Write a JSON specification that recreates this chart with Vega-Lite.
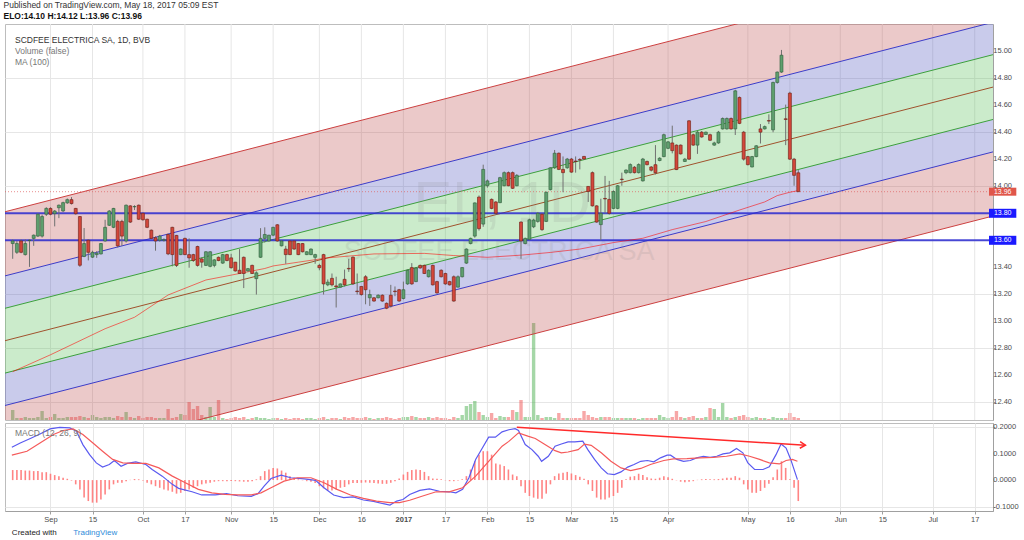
{
"$schema": "https://vega.github.io/schema/vega-lite/v6.json",
"background": "white",
"padding": {"left": 3, "top": 1, "right": 0, "bottom": 0},
"title": {"text": "Published on TradingView.com, May 18, 2017 05:09 EST", "subtitle": "ELO:14.10 H:14.12 L:13.96 C:13.96", "anchor": "start", "frame": "bounds", "fontSize": 8.5, "fontWeight": "normal", "color": "#333333", "subtitleFontSize": 8.5, "subtitleFontWeight": "bold", "subtitleColor": "#111111", "offset": 3, "subtitlePadding": 2},
"datasets": {
"xt": [{"i":0},{"i":10},{"i":22},{"i":32},{"i":43},{"i":53},{"i":64},{"i":74},{"i":84},{"i":94},{"i":104},{"i":114},{"i":124},{"i":134},{"i":147},{"i":166},{"i":176},{"i":188},{"i":198},{"i":210},{"i":220}],
"yt": [{"p":12.4},{"p":12.6},{"p":12.8},{"p":13.0},{"p":13.2},{"p":13.4},{"p":14.0},{"p":14.2},{"p":14.4},{"p":14.6},{"p":14.8},{"p":15.0}],
"mt": [{"m":-0.1,"t":"-0.1000"},{"m":0,"t":"0.0000"},{"m":0.1,"t":"0.1000"},{"m":0.2,"t":"0.2000"}],
"chan": [{"i":-12,"ru":13.802,"pu":13.327,"gu":13.087,"c":12.847,"gl":12.607,"pl":12.367,"rl":11.892},{"i":226,"ru":15.703,"pu":15.228,"gu":14.988,"c":14.748,"gl":14.508,"pl":14.268,"rl":13.793}],
"levels": [{"p":13.8},{"p":13.6}],
"last": [{"p":13.96}],
"ma": [{"i":-9,"ma":12.627},{"i":0,"ma":12.752},{"i":13,"ma":12.945},{"i":20,"ma":13.03},{"i":28,"ma":13.195},{"i":37,"ma":13.306},{"i":43,"ma":13.342},{"i":51,"ma":13.391},{"i":53,"ma":13.41},{"i":59,"ma":13.438},{"i":66,"ma":13.47},{"i":77,"ma":13.499},{"i":89,"ma":13.503},{"i":96,"ma":13.487},{"i":104,"ma":13.474},{"i":112,"ma":13.49},{"i":119,"ma":13.51},{"i":126,"ma":13.535},{"i":134,"ma":13.583},{"i":141,"ma":13.615},{"i":148,"ma":13.679},{"i":156,"ma":13.739},{"i":164,"ma":13.824},{"i":170,"ma":13.884},{"i":173,"ma":13.931},{"i":176,"ma":13.956},{"i":178,"ma":13.968}],
"candles": [
{"i":-9,"o":13.576,"h":13.607,"l":13.463,"c":13.595,"v":10},
{"i":-8,"o":13.511,"h":13.595,"l":13.499,"c":13.576,"v":2},
{"i":-7,"o":13.595,"h":13.607,"l":13.504,"c":13.511,"v":2},
{"i":-6,"o":13.494,"h":13.607,"l":13.487,"c":13.576,"v":3},
{"i":-5,"o":13.598,"h":13.607,"l":13.403,"c":13.6,"v":2},
{"i":-4,"o":13.614,"h":13.643,"l":13.559,"c":13.638,"v":2},
{"i":-3,"o":13.631,"h":13.8,"l":13.624,"c":13.793,"v":3},
{"i":-2,"o":13.631,"h":13.79,"l":13.62,"c":13.776,"v":9},
{"i":-1,"o":13.793,"h":13.845,"l":13.78,"c":13.836,"v":2},
{"i":0,"o":13.836,"h":13.845,"l":13.785,"c":13.793,"v":3},
{"i":1,"o":13.797,"h":13.824,"l":13.703,"c":13.817,"v":6},
{"i":2,"o":13.841,"h":13.865,"l":13.764,"c":13.86,"v":2},
{"i":3,"o":13.817,"h":13.886,"l":13.81,"c":13.879,"v":2},
{"i":4,"o":13.877,"h":13.91,"l":13.87,"c":13.901,"v":3},
{"i":5,"o":13.901,"h":13.92,"l":13.865,"c":13.872,"v":3},
{"i":6,"o":13.836,"h":13.84,"l":13.79,"c":13.797,"v":3},
{"i":7,"o":13.776,"h":13.78,"l":13.403,"c":13.415,"v":4},
{"i":8,"o":13.48,"h":13.691,"l":13.475,"c":13.576,"v":3},
{"i":9,"o":13.6,"h":13.607,"l":13.451,"c":13.511,"v":2},
{"i":10,"o":13.475,"h":13.523,"l":13.47,"c":13.511,"v":5},
{"i":11,"o":13.494,"h":13.52,"l":13.47,"c":13.504,"v":3},
{"i":12,"o":13.499,"h":13.58,"l":13.495,"c":13.576,"v":2},
{"i":13,"o":13.595,"h":13.752,"l":13.59,"c":13.696,"v":3},
{"i":14,"o":13.711,"h":13.824,"l":13.706,"c":13.817,"v":3},
{"i":15,"o":13.696,"h":13.84,"l":13.69,"c":13.836,"v":2},
{"i":16,"o":13.74,"h":13.752,"l":13.547,"c":13.559,"v":4},
{"i":17,"o":13.74,"h":13.752,"l":13.559,"c":13.631,"v":3},
{"i":18,"o":13.595,"h":13.865,"l":13.583,"c":13.86,"v":8},
{"i":19,"o":13.855,"h":13.86,"l":13.728,"c":13.735,"v":3},
{"i":20,"o":13.848,"h":13.86,"l":13.824,"c":13.85,"v":2},
{"i":21,"o":13.86,"h":13.865,"l":13.75,"c":13.756,"v":4},
{"i":22,"o":13.8,"h":13.805,"l":13.745,"c":13.752,"v":2},
{"i":23,"o":13.756,"h":13.76,"l":13.69,"c":13.696,"v":3},
{"i":24,"o":13.675,"h":13.68,"l":13.607,"c":13.614,"v":3},
{"i":25,"o":13.619,"h":13.63,"l":13.523,"c":13.595,"v":2},
{"i":26,"o":13.6,"h":13.64,"l":13.59,"c":13.631,"v":2},
{"i":27,"o":13.6,"h":13.615,"l":13.59,"c":13.605,"v":2},
{"i":28,"o":13.643,"h":13.65,"l":13.49,"c":13.499,"v":11},
{"i":29,"o":13.696,"h":13.7,"l":13.407,"c":13.494,"v":2},
{"i":30,"o":13.636,"h":13.64,"l":13.402,"c":13.414,"v":3},
{"i":31,"o":13.494,"h":13.54,"l":13.49,"c":13.535,"v":6},
{"i":32,"o":13.614,"h":13.62,"l":13.49,"c":13.494,"v":5},
{"i":33,"o":13.494,"h":13.614,"l":13.397,"c":13.47,"v":18},
{"i":34,"o":13.494,"h":13.5,"l":13.44,"c":13.45,"v":11},
{"i":35,"o":13.554,"h":13.56,"l":13.405,"c":13.414,"v":14},
{"i":36,"o":13.462,"h":13.474,"l":13.397,"c":13.438,"v":5},
{"i":37,"o":13.414,"h":13.52,"l":13.41,"c":13.515,"v":3},
{"i":38,"o":13.407,"h":13.52,"l":13.4,"c":13.515,"v":13},
{"i":39,"o":13.414,"h":13.46,"l":13.4,"c":13.455,"v":3},
{"i":40,"o":13.474,"h":13.48,"l":13.445,"c":13.45,"v":20},
{"i":41,"o":13.431,"h":13.5,"l":13.425,"c":13.494,"v":2},
{"i":42,"o":13.494,"h":13.5,"l":13.445,"c":13.45,"v":1},
{"i":43,"o":13.47,"h":13.5,"l":13.39,"c":13.397,"v":2},
{"i":44,"o":13.438,"h":13.44,"l":13.368,"c":13.373,"v":3},
{"i":45,"o":13.378,"h":13.535,"l":13.35,"c":13.354,"v":2},
{"i":46,"o":13.474,"h":13.48,"l":13.246,"c":13.354,"v":3},
{"i":47,"o":13.373,"h":13.395,"l":13.368,"c":13.39,"v":1},
{"i":48,"o":13.414,"h":13.42,"l":13.35,"c":13.354,"v":2},
{"i":49,"o":13.316,"h":13.37,"l":13.198,"c":13.359,"v":3},
{"i":50,"o":13.474,"h":13.69,"l":13.47,"c":13.614,"v":2},
{"i":51,"o":13.614,"h":13.696,"l":13.583,"c":13.643,"v":2},
{"i":52,"o":13.595,"h":13.64,"l":13.59,"c":13.638,"v":1},
{"i":53,"o":13.638,"h":13.7,"l":13.63,"c":13.696,"v":2},
{"i":54,"o":13.715,"h":13.72,"l":13.59,"c":13.595,"v":2},
{"i":55,"o":13.559,"h":13.6,"l":13.555,"c":13.595,"v":1},
{"i":56,"o":13.535,"h":13.559,"l":13.426,"c":13.494,"v":2},
{"i":57,"o":13.595,"h":13.6,"l":13.49,"c":13.494,"v":1},
{"i":58,"o":13.595,"h":13.6,"l":13.53,"c":13.535,"v":2},
{"i":59,"o":13.576,"h":13.58,"l":13.49,"c":13.494,"v":2},
{"i":60,"o":13.576,"h":13.58,"l":13.51,"c":13.515,"v":1},
{"i":61,"o":13.494,"h":13.52,"l":13.49,"c":13.515,"v":2},
{"i":62,"o":13.494,"h":13.54,"l":13.49,"c":13.535,"v":2},
{"i":63,"o":13.474,"h":13.5,"l":13.426,"c":13.494,"v":1},
{"i":64,"o":13.414,"h":13.426,"l":13.378,"c":13.397,"v":2},
{"i":65,"o":13.494,"h":13.5,"l":13.198,"c":13.277,"v":3},
{"i":66,"o":13.27,"h":13.31,"l":13.26,"c":13.29,"v":1},
{"i":67,"o":13.318,"h":13.354,"l":13.258,"c":13.27,"v":2},
{"i":68,"o":13.262,"h":13.33,"l":13.102,"c":13.255,"v":2},
{"i":69,"o":13.253,"h":13.28,"l":13.25,"c":13.277,"v":1},
{"i":70,"o":13.311,"h":13.383,"l":13.258,"c":13.27,"v":3},
{"i":71,"o":13.392,"h":13.463,"l":13.366,"c":13.388,"v":2},
{"i":72,"o":13.475,"h":13.48,"l":13.27,"c":13.277,"v":3},
{"i":73,"o":13.224,"h":13.354,"l":13.198,"c":13.22,"v":2},
{"i":74,"o":13.258,"h":13.26,"l":13.19,"c":13.198,"v":2},
{"i":75,"o":13.33,"h":13.342,"l":13.126,"c":13.234,"v":3},
{"i":76,"o":13.174,"h":13.234,"l":13.114,"c":13.198,"v":2},
{"i":77,"o":13.174,"h":13.18,"l":13.145,"c":13.15,"v":1},
{"i":78,"o":13.174,"h":13.2,"l":13.17,"c":13.193,"v":2},
{"i":79,"o":13.193,"h":13.2,"l":13.145,"c":13.15,"v":2},
{"i":80,"o":13.133,"h":13.14,"l":13.09,"c":13.097,"v":3},
{"i":81,"o":13.193,"h":13.27,"l":13.102,"c":13.114,"v":2},
{"i":82,"o":13.224,"h":13.258,"l":13.186,"c":13.22,"v":1},
{"i":83,"o":13.234,"h":13.24,"l":13.145,"c":13.15,"v":2},
{"i":84,"o":13.169,"h":13.294,"l":13.162,"c":13.234,"v":3},
{"i":85,"o":13.277,"h":13.385,"l":13.27,"c":13.378,"v":3},
{"i":86,"o":13.398,"h":13.431,"l":13.27,"c":13.277,"v":4},
{"i":87,"o":13.294,"h":13.4,"l":13.29,"c":13.395,"v":3},
{"i":88,"o":13.414,"h":13.42,"l":13.39,"c":13.395,"v":2},
{"i":89,"o":13.414,"h":13.42,"l":13.35,"c":13.354,"v":2},
{"i":90,"o":13.33,"h":13.385,"l":13.325,"c":13.378,"v":3},
{"i":91,"o":13.414,"h":13.42,"l":13.265,"c":13.27,"v":2},
{"i":92,"o":13.294,"h":13.3,"l":13.205,"c":13.21,"v":3},
{"i":93,"o":13.378,"h":13.385,"l":13.325,"c":13.33,"v":2},
{"i":94,"o":13.354,"h":13.36,"l":13.27,"c":13.277,"v":2},
{"i":95,"o":13.294,"h":13.3,"l":13.265,"c":13.27,"v":1},
{"i":96,"o":13.33,"h":13.34,"l":13.145,"c":13.15,"v":3},
{"i":97,"o":13.253,"h":13.34,"l":13.25,"c":13.33,"v":2},
{"i":98,"o":13.33,"h":13.4,"l":13.325,"c":13.398,"v":5},
{"i":99,"o":13.431,"h":13.54,"l":13.425,"c":13.535,"v":14},
{"i":100,"o":13.576,"h":13.62,"l":13.57,"c":13.614,"v":16},
{"i":101,"o":13.631,"h":13.88,"l":13.619,"c":13.877,"v":19},
{"i":102,"o":13.92,"h":13.932,"l":13.672,"c":13.686,"v":8},
{"i":103,"o":13.72,"h":14.16,"l":13.7,"c":14.125,"v":5},
{"i":104,"o":14.004,"h":14.05,"l":13.99,"c":14.04,"v":3},
{"i":105,"o":13.903,"h":13.91,"l":13.83,"c":13.836,"v":7},
{"i":106,"o":13.884,"h":13.89,"l":13.79,"c":13.8,"v":2},
{"i":107,"o":13.879,"h":14.07,"l":13.875,"c":14.064,"v":4},
{"i":108,"o":14.004,"h":14.11,"l":14.0,"c":14.101,"v":3},
{"i":109,"o":14.101,"h":14.11,"l":14.0,"c":14.004,"v":3},
{"i":110,"o":14.101,"h":14.11,"l":13.98,"c":13.985,"v":10},
{"i":111,"o":14.004,"h":14.09,"l":14.0,"c":14.081,"v":8},
{"i":112,"o":13.735,"h":13.74,"l":13.463,"c":13.595,"v":20},
{"i":113,"o":13.576,"h":13.62,"l":13.57,"c":13.614,"v":3},
{"i":114,"o":13.607,"h":13.76,"l":13.6,"c":13.752,"v":3},
{"i":115,"o":13.7,"h":13.76,"l":13.69,"c":13.75,"v":97},
{"i":116,"o":13.74,"h":13.81,"l":13.73,"c":13.8,"v":5},
{"i":117,"o":13.793,"h":13.8,"l":13.67,"c":13.679,"v":2},
{"i":118,"o":13.74,"h":13.96,"l":13.735,"c":13.956,"v":3},
{"i":119,"o":13.975,"h":14.14,"l":13.97,"c":14.137,"v":3},
{"i":120,"o":14.137,"h":14.269,"l":14.129,"c":14.245,"v":2},
{"i":121,"o":14.245,"h":14.25,"l":14.12,"c":14.125,"v":7},
{"i":122,"o":14.125,"h":14.221,"l":13.956,"c":14.101,"v":2},
{"i":123,"o":14.137,"h":14.21,"l":14.13,"c":14.202,"v":2},
{"i":124,"o":14.202,"h":14.21,"l":14.1,"c":14.105,"v":2},
{"i":125,"o":14.187,"h":14.221,"l":14.101,"c":14.183,"v":2},
{"i":126,"o":14.198,"h":14.209,"l":14.125,"c":14.195,"v":2},
{"i":127,"o":14.221,"h":14.225,"l":14.195,"c":14.202,"v":9},
{"i":128,"o":13.999,"h":14.0,"l":13.884,"c":13.961,"v":5},
{"i":129,"o":14.101,"h":14.11,"l":13.85,"c":13.855,"v":3},
{"i":130,"o":13.855,"h":13.86,"l":13.73,"c":13.735,"v":2},
{"i":131,"o":13.716,"h":13.908,"l":13.6,"c":13.8,"v":3},
{"i":132,"o":13.91,"h":14.077,"l":13.8,"c":13.906,"v":3},
{"i":133,"o":13.903,"h":14.04,"l":13.79,"c":13.8,"v":3},
{"i":134,"o":13.836,"h":13.97,"l":13.83,"c":13.961,"v":2},
{"i":135,"o":13.836,"h":14.01,"l":13.83,"c":14.004,"v":2},
{"i":136,"o":14.053,"h":14.101,"l":14.004,"c":14.05,"v":2},
{"i":137,"o":14.101,"h":14.125,"l":14.09,"c":14.12,"v":2},
{"i":138,"o":14.101,"h":14.17,"l":14.095,"c":14.161,"v":2},
{"i":139,"o":14.141,"h":14.15,"l":14.095,"c":14.101,"v":2},
{"i":140,"o":14.101,"h":14.17,"l":14.095,"c":14.161,"v":1},
{"i":141,"o":14.04,"h":14.21,"l":14.035,"c":14.202,"v":2},
{"i":142,"o":14.184,"h":14.19,"l":14.155,"c":14.16,"v":2},
{"i":143,"o":14.143,"h":14.15,"l":14.11,"c":14.119,"v":2},
{"i":144,"o":14.16,"h":14.305,"l":14.088,"c":14.1,"v":2},
{"i":145,"o":14.191,"h":14.215,"l":14.185,"c":14.208,"v":5},
{"i":146,"o":14.22,"h":14.39,"l":14.215,"c":14.382,"v":3},
{"i":147,"o":14.281,"h":14.335,"l":14.275,"c":14.329,"v":2},
{"i":148,"o":14.321,"h":14.449,"l":14.244,"c":14.264,"v":3},
{"i":149,"o":14.305,"h":14.31,"l":14.12,"c":14.124,"v":9},
{"i":150,"o":14.305,"h":14.31,"l":14.235,"c":14.24,"v":3},
{"i":151,"o":14.184,"h":14.21,"l":14.18,"c":14.201,"v":2},
{"i":152,"o":14.485,"h":14.49,"l":14.195,"c":14.201,"v":3},
{"i":153,"o":14.382,"h":14.39,"l":14.3,"c":14.305,"v":4},
{"i":154,"o":14.305,"h":14.41,"l":14.24,"c":14.401,"v":2},
{"i":155,"o":14.401,"h":14.41,"l":14.36,"c":14.365,"v":2},
{"i":156,"o":14.384,"h":14.405,"l":14.38,"c":14.401,"v":3},
{"i":157,"o":14.382,"h":14.39,"l":14.335,"c":14.341,"v":12},
{"i":158,"o":14.305,"h":14.33,"l":14.3,"c":14.321,"v":11},
{"i":159,"o":14.321,"h":14.41,"l":14.315,"c":14.401,"v":3},
{"i":160,"o":14.425,"h":14.51,"l":14.42,"c":14.502,"v":17},
{"i":161,"o":14.425,"h":14.51,"l":14.42,"c":14.502,"v":3},
{"i":162,"o":14.502,"h":14.51,"l":14.42,"c":14.425,"v":2},
{"i":163,"o":14.425,"h":14.715,"l":14.38,"c":14.707,"v":3},
{"i":164,"o":14.658,"h":14.665,"l":14.46,"c":14.466,"v":4},
{"i":165,"o":14.401,"h":14.41,"l":14.19,"c":14.201,"v":5},
{"i":166,"o":14.22,"h":14.225,"l":14.155,"c":14.16,"v":3},
{"i":167,"o":14.143,"h":14.225,"l":14.14,"c":14.22,"v":2},
{"i":168,"o":14.22,"h":14.305,"l":14.215,"c":14.3,"v":3},
{"i":169,"o":14.425,"h":14.461,"l":14.317,"c":14.401,"v":2},
{"i":170,"o":14.425,"h":14.45,"l":14.42,"c":14.442,"v":2},
{"i":171,"o":14.487,"h":14.533,"l":14.461,"c":14.483,"v":1},
{"i":172,"o":14.418,"h":14.775,"l":14.4,"c":14.769,"v":3},
{"i":173,"o":14.769,"h":14.85,"l":14.76,"c":14.846,"v":2},
{"i":174,"o":14.846,"h":15.01,"l":14.84,"c":14.971,"v":2},
{"i":175,"o":14.5,"h":14.605,"l":14.305,"c":14.495,"v":2},
{"i":176,"o":14.69,"h":14.7,"l":14.195,"c":14.201,"v":7},
{"i":177,"o":14.201,"h":14.21,"l":14.004,"c":14.081,"v":3},
{"i":178,"o":14.1,"h":14.12,"l":13.96,"c":13.96,"v":2}
],
"hist": [
{"i":-9,"h":0.038},{"i":-8,"h":0.038},{"i":-7,"h":0.038},{"i":-6,"h":0.036},{"i":-5,"h":0.036},{"i":-4,"h":0.034},{"i":-3,"h":0.034},{"i":-2,"h":0.03},{"i":-1,"h":0.03},{"i":0,"h":0.024},
{"i":1,"h":0.019},{"i":2,"h":0.015},{"i":3,"h":0.009},{"i":4,"h":0.005},{"i":5,"h":-0.002},{"i":6,"h":-0.016},{"i":7,"h":-0.035},{"i":8,"h":-0.066},{"i":9,"h":-0.079},{"i":10,"h":-0.085},
{"i":11,"h":-0.085},{"i":12,"h":-0.073},{"i":13,"h":-0.054},{"i":14,"h":-0.035},{"i":15,"h":-0.016},{"i":16,"h":-0.01},{"i":17,"h":-0.01},{"i":18,"h":-0.004},{"i":19,"h":0.001},{"i":20,"h":0.004},
{"i":21,"h":0.003},{"i":22,"h":-0.001},{"i":23,"h":-0.01},{"i":24,"h":-0.016},{"i":25,"h":-0.023},{"i":26,"h":-0.029},{"i":27,"h":-0.035},{"i":28,"h":-0.039},{"i":29,"h":-0.044},{"i":30,"h":-0.051},
{"i":31,"h":-0.048},{"i":32,"h":-0.041},{"i":33,"h":-0.035},{"i":34,"h":-0.029},{"i":35,"h":-0.023},{"i":36,"h":-0.016},{"i":37,"h":-0.013},{"i":38,"h":-0.01},{"i":39,"h":-0.006},{"i":40,"h":-0.004},
{"i":41,"h":-0.004},{"i":42,"h":-0.004},{"i":43,"h":-0.003},{"i":44,"h":-0.004},{"i":45,"h":-0.005},{"i":46,"h":-0.006},{"i":47,"h":-0.006},{"i":48,"h":-0.004},{"i":49,"h":0.003},{"i":50,"h":0.015},
{"i":51,"h":0.034},{"i":52,"h":0.04},{"i":53,"h":0.046},{"i":54,"h":0.044},{"i":55,"h":0.036},{"i":56,"h":0.028},{"i":57,"h":0.015},{"i":58,"h":0.009},{"i":59,"h":0.003},{"i":60,"h":-0.001},
{"i":61,"h":-0.004},{"i":62,"h":-0.006},{"i":63,"h":-0.011},{"i":64,"h":-0.023},{"i":65,"h":-0.031},{"i":66,"h":-0.039},{"i":67,"h":-0.039},{"i":68,"h":-0.035},{"i":69,"h":-0.029},{"i":70,"h":-0.026},
{"i":71,"h":-0.016},{"i":72,"h":-0.011},{"i":73,"h":-0.011},{"i":74,"h":-0.01},{"i":75,"h":-0.009},{"i":76,"h":-0.01},{"i":77,"h":-0.011},{"i":78,"h":-0.013},{"i":79,"h":-0.014},{"i":80,"h":-0.014},
{"i":81,"h":-0.01},{"i":82,"h":-0.004},{"i":83,"h":0.006},{"i":84,"h":0.021},{"i":85,"h":0.031},{"i":86,"h":0.038},{"i":87,"h":0.04},{"i":88,"h":0.038},{"i":89,"h":0.031},{"i":90,"h":0.015},
{"i":91,"h":0.006},{"i":92,"h":0.005},{"i":93,"h":0.003},{"i":94,"h":-0.001},{"i":95,"h":-0.004},{"i":96,"h":-0.004},{"i":97,"h":-0.001},{"i":98,"h":0.003},{"i":99,"h":0.015},{"i":100,"h":0.04},
{"i":101,"h":0.071},{"i":102,"h":0.096},{"i":103,"h":0.109},{"i":104,"h":0.109},{"i":105,"h":0.096},{"i":106,"h":0.063},{"i":107,"h":0.059},{"i":108,"h":0.053},{"i":109,"h":0.04},{"i":110,"h":0.021},
{"i":111,"h":0.015},{"i":112,"h":-0.023},{"i":113,"h":-0.048},{"i":114,"h":-0.06},{"i":115,"h":-0.066},{"i":116,"h":-0.07},{"i":117,"h":-0.07},{"i":118,"h":-0.051},{"i":119,"h":-0.016},{"i":120,"h":0.015},
{"i":121,"h":0.025},{"i":122,"h":0.028},{"i":123,"h":0.031},{"i":124,"h":0.025},{"i":125,"h":0.019},{"i":126,"h":0.013},{"i":127,"h":0.005},{"i":128,"h":-0.016},{"i":129,"h":-0.041},{"i":130,"h":-0.066},
{"i":131,"h":-0.073},{"i":132,"h":-0.073},{"i":133,"h":-0.066},{"i":134,"h":-0.06},{"i":135,"h":-0.048},{"i":136,"h":-0.029},{"i":137,"h":0.003},{"i":138,"h":0.013},{"i":139,"h":0.015},{"i":140,"h":0.024},
{"i":141,"h":0.019},{"i":142,"h":0.011},{"i":143,"h":0.006},{"i":144,"h":0.005},{"i":145,"h":0.009},{"i":146,"h":0.015},{"i":147,"h":0.011},{"i":148,"h":0.005},{"i":149,"h":-0.001},{"i":150,"h":-0.006},
{"i":151,"h":-0.008},{"i":152,"h":-0.006},{"i":153,"h":-0.004},{"i":154,"h":0.001},{"i":155,"h":0.003},{"i":156,"h":0.004},{"i":157,"h":0.003},{"i":158,"h":0.003},{"i":159,"h":0.004},{"i":160,"h":0.006},
{"i":161,"h":0.009},{"i":162,"h":0.009},{"i":163,"h":0.015},{"i":164,"h":0.009},{"i":165,"h":-0.016},{"i":166,"h":-0.035},{"i":167,"h":-0.048},{"i":168,"h":-0.048},{"i":169,"h":-0.041},{"i":170,"h":-0.029},
{"i":171,"h":-0.014},{"i":172,"h":0.011},{"i":173,"h":0.04},{"i":174,"h":0.071},{"i":175,"h":0.046},{"i":176,"h":0.003},{"i":177,"h":-0.029},{"i":178,"h":-0.079}
],
"ml": [{"i":-9.2,"m":0.124},{"i":-7.2,"m":0.14},{"i":-4.8,"m":0.157},{"i":-2.5,"m":0.174},{"i":-0.1,"m":0.193},{"i":2.2,"m":0.199},{"i":4.6,"m":0.197},{"i":6.2,"m":0.184},{"i":7.7,"m":0.134},{"i":9.3,"m":0.096},{"i":10.9,"m":0.065},{"i":12.4,"m":0.049},{"i":14.0,"m":0.059},{"i":15.2,"m":0.074},{"i":16.8,"m":0.052},{"i":18.3,"m":0.063},{"i":20.3,"m":0.069},{"i":22.7,"m":0.059},{"i":24.2,"m":0.04},{"i":26.6,"m":0.015},{"i":29.0,"m":-0.016},{"i":30.5,"m":-0.031},{"i":33.7,"m":-0.044},{"i":36.0,"m":-0.056},{"i":39.2,"m":-0.056},{"i":41.9,"m":-0.051},{"i":44.6,"m":-0.059},{"i":47.8,"m":-0.061},{"i":49.4,"m":-0.051},{"i":50.9,"m":-0.022},{"i":52.5,"m":0.006},{"i":54.9,"m":0.019},{"i":57.2,"m":0.009},{"i":60.4,"m":0.005},{"i":63.1,"m":-0.001},{"i":65.1,"m":-0.029},{"i":67.4,"m":-0.056},{"i":69.8,"m":-0.066},{"i":72.1,"m":-0.063},{"i":74.5,"m":-0.075},{"i":76.9,"m":-0.08},{"i":79.2,"m":-0.089},{"i":80.8,"m":-0.094},{"i":82.4,"m":-0.079},{"i":83.9,"m":-0.073},{"i":85.5,"m":-0.054},{"i":87.9,"m":-0.039},{"i":90.2,"m":-0.033},{"i":92.6,"m":-0.042},{"i":94.9,"m":-0.044},{"i":96.5,"m":-0.048},{"i":98.1,"m":-0.035},{"i":99.6,"m":0.009},{"i":101.2,"m":0.078},{"i":102.8,"m":0.121},{"i":104.3,"m":0.162},{"i":105.9,"m":0.162},{"i":107.5,"m":0.182},{"i":109.1,"m":0.19},{"i":110.6,"m":0.194},{"i":111.4,"m":0.187},{"i":113.0,"m":0.134},{"i":114.6,"m":0.115},{"i":116.1,"m":0.09},{"i":116.9,"m":0.071},{"i":118.5,"m":0.09},{"i":120.1,"m":0.128},{"i":121.6,"m":0.136},{"i":123.2,"m":0.144},{"i":124.8,"m":0.144},{"i":126.7,"m":0.147},{"i":127.9,"m":0.115},{"i":129.5,"m":0.078},{"i":131.1,"m":0.046},{"i":132.6,"m":0.024},{"i":134.2,"m":0.021},{"i":135.8,"m":0.031},{"i":137.4,"m":0.049},{"i":138.9,"m":0.059},{"i":140.5,"m":0.071},{"i":142.1,"m":0.074},{"i":143.6,"m":0.069},{"i":145.2,"m":0.084},{"i":146.8,"m":0.094},{"i":147.6,"m":0.094},{"i":149.1,"m":0.078},{"i":150.7,"m":0.071},{"i":152.3,"m":0.074},{"i":153.8,"m":0.084},{"i":155.4,"m":0.09},{"i":157.0,"m":0.086},{"i":158.6,"m":0.09},{"i":160.1,"m":0.099},{"i":161.7,"m":0.103},{"i":163.3,"m":0.119},{"i":164.8,"m":0.103},{"i":166.0,"m":0.065},{"i":167.6,"m":0.04},{"i":169.6,"m":0.04},{"i":171.1,"m":0.05},{"i":172.7,"m":0.096},{"i":173.9,"m":0.136},{"i":175.1,"m":0.121},{"i":176.2,"m":0.078},{"i":177.8,"m":0.002}],
"sl": [{"i":-9.2,"s":0.094},{"i":-5.6,"s":0.109},{"i":-2.5,"s":0.14},{"i":0.7,"s":0.172},{"i":3.0,"s":0.187},{"i":5.4,"s":0.193},{"i":7.7,"s":0.172},{"i":10.1,"s":0.14},{"i":12.4,"s":0.109},{"i":14.8,"s":0.078},{"i":17.2,"s":0.065},{"i":19.5,"s":0.063},{"i":22.7,"s":0.063},{"i":25.8,"s":0.046},{"i":29.0,"s":0.015},{"i":32.1,"s":-0.01},{"i":35.2,"s":-0.035},{"i":38.4,"s":-0.048},{"i":41.5,"s":-0.054},{"i":44.6,"s":-0.056},{"i":47.8,"s":-0.056},{"i":50.1,"s":-0.048},{"i":52.5,"s":-0.029},{"i":55.6,"s":-0.004},{"i":58.8,"s":0.009},{"i":62.0,"s":0.009},{"i":65.1,"s":-0.01},{"i":68.2,"s":-0.035},{"i":71.4,"s":-0.056},{"i":74.5,"s":-0.069},{"i":77.6,"s":-0.079},{"i":80.8,"s":-0.085},{"i":83.1,"s":-0.085},{"i":85.5,"s":-0.076},{"i":88.6,"s":-0.06},{"i":91.8,"s":-0.044},{"i":94.9,"s":-0.044},{"i":98.1,"s":-0.029},{"i":101.2,"s":0.015},{"i":104.3,"s":0.071},{"i":107.5,"s":0.128},{"i":109.1,"s":0.146},{"i":111.4,"s":0.178},{"i":113.8,"s":0.165},{"i":115.4,"s":0.157},{"i":117.7,"s":0.134},{"i":120.1,"s":0.111},{"i":121.6,"s":0.103},{"i":123.2,"s":0.106},{"i":125.6,"s":0.115},{"i":127.1,"s":0.136},{"i":128.7,"s":0.131},{"i":131.1,"s":0.103},{"i":133.4,"s":0.071},{"i":135.8,"s":0.046},{"i":138.1,"s":0.036},{"i":140.5,"s":0.044},{"i":142.8,"s":0.059},{"i":146.0,"s":0.074},{"i":148.3,"s":0.08},{"i":151.5,"s":0.081},{"i":154.6,"s":0.084},{"i":157.8,"s":0.086},{"i":160.9,"s":0.09},{"i":164.1,"s":0.099},{"i":166.4,"s":0.09},{"i":168.8,"s":0.078},{"i":171.1,"s":0.065},{"i":173.5,"s":0.061},{"i":175.1,"s":0.074},{"i":176.6,"s":0.078},{"i":177.8,"s":0.071}],
"arrow": [{"i":111.0,"m":0.199},{"i":179.7,"m":0.1316}]
},
"vconcat": [
{
"width": 988, "height": 396,
"layer": [
{"data": {"name": "candles"}, "mark": {"type": "bar", "width": 3.4, "opacity": 0.5},
 "encoding": {
  "x": {"field": "i", "type": "quantitative", "title": null, "scale": {"domain": [-9.64, 223.16], "nice": false, "zero": false}, "axis": null},
  "y": {"field": "v", "type": "quantitative", "title": null, "scale": {"domain": [0, 396], "nice": false}, "axis": null},
  "color": {"condition": {"test": "datum.c >= datum.o", "value": "#4caf50"}, "value": "#f05050"}}},
{"layer": [
 {"data": {"name": "xt"}, "mark": {"type": "rule", "color": "#e6e6e6", "strokeWidth": 1},
  "encoding": {"x": {"field": "i", "type": "quantitative", "title": null}}},
 {"data": {"name": "chan"}, "mark": {"type": "area", "color": "#bc4b4b", "opacity": 0.3, "clip": true},
  "encoding": {"x": {"field": "i", "type": "quantitative", "title": null},
   "y": {"field": "ru", "type": "quantitative", "title": null, "scale": {"domain": [12.306, 15.165], "nice": false, "zero": false}, "axis": {"orient": "right", "values": [12.4,12.6,12.8,13.0,13.2,13.4,13.6,13.8,14.0,14.2,14.4,14.6,14.8,15.0], "labels": false, "grid": true, "ticks": true, "title": null}},
   "y2": {"field": "pu"}}},
 {"data": {"name": "chan"}, "mark": {"type": "area", "color": "#4b52bc", "opacity": 0.3, "clip": true},
  "encoding": {"x": {"field": "i", "type": "quantitative", "title": null}, "y": {"field": "pu", "type": "quantitative", "title": null}, "y2": {"field": "gu"}}},
 {"data": {"name": "chan"}, "mark": {"type": "area", "color": "#52bc52", "opacity": 0.3, "clip": true},
  "encoding": {"x": {"field": "i", "type": "quantitative", "title": null}, "y": {"field": "gu", "type": "quantitative", "title": null}, "y2": {"field": "gl"}}},
 {"data": {"name": "chan"}, "mark": {"type": "area", "color": "#4b52bc", "opacity": 0.3, "clip": true},
  "encoding": {"x": {"field": "i", "type": "quantitative", "title": null}, "y": {"field": "gl", "type": "quantitative", "title": null}, "y2": {"field": "pl"}}},
 {"data": {"name": "chan"}, "mark": {"type": "area", "color": "#bc4b4b", "opacity": 0.3, "clip": true},
  "encoding": {"x": {"field": "i", "type": "quantitative", "title": null}, "y": {"field": "pl", "type": "quantitative", "title": null}, "y2": {"field": "rl"}}},
 {"data": {"name": "chan"}, "transform": [{"fold": ["ru","pu","gu","c","gl","pl","rl"], "as": ["k","val"]}],
  "mark": {"type": "line", "strokeWidth": 1, "clip": true},
  "encoding": {"x": {"field": "i", "type": "quantitative", "title": null}, "y": {"field": "val", "type": "quantitative", "title": null},
   "color": {"field": "k", "type": "nominal", "legend": null, "scale": {"domain": ["ru","pu","gu","c","gl","pl","rl"], "range": ["#cc4040","#3c3cc8","#3ca03c","#a0522d","#3ca03c","#3c3cc8","#cc4040"]}}}},
 {"data": {"values": [{}]}, "mark": {"type": "text", "fontSize": 58, "color": "#7f7f7f", "opacity": 0.14, "align": "center", "baseline": "middle"},
  "encoding": {"x": {"datum": 107.5, "type": "quantitative"}, "y": {"datum": 13.862, "type": "quantitative"}, "text": {"value": "EL, 1D"}}},
 {"data": {"values": [{}]}, "mark": {"type": "text", "fontSize": 27, "color": "#7f7f7f", "opacity": 0.14, "align": "center", "baseline": "middle"},
  "encoding": {"x": {"datum": 106.8, "type": "quantitative"}, "y": {"datum": 13.515, "type": "quantitative"}, "text": {"value": "SCDFEE ELECTRICA SA"}}},
 {"data": {"name": "levels"}, "mark": {"type": "rule", "color": "#2a2ad0", "strokeWidth": 2, "opacity": 0.85},
  "encoding": {"y": {"field": "p", "type": "quantitative", "title": null}}},
 {"data": {"name": "last"}, "mark": {"type": "rule", "color": "#e06060", "strokeWidth": 1, "strokeDash": [1, 2], "opacity": 0.7},
  "encoding": {"y": {"field": "p", "type": "quantitative", "title": null}}},
 {"data": {"name": "ma"}, "mark": {"type": "line", "color": "#ff0000", "opacity": 0.55, "strokeWidth": 1, "clip": true},
  "encoding": {"x": {"field": "i", "type": "quantitative", "title": null}, "y": {"field": "ma", "type": "quantitative", "title": null}}},
 {"data": {"name": "candles"}, "mark": {"type": "rule", "color": "#707070", "strokeWidth": 1},
  "encoding": {"x": {"field": "i", "type": "quantitative", "title": null}, "y": {"field": "l", "type": "quantitative", "title": null}, "y2": {"field": "h"}}},
 {"data": {"name": "candles"}, "mark": {"type": "bar", "width": 3, "strokeWidth": 0.6},
  "encoding": {"x": {"field": "i", "type": "quantitative", "title": null}, "y": {"field": "o", "type": "quantitative", "title": null}, "y2": {"field": "c"},
   "fill": {"condition": {"test": "datum.c >= datum.o", "value": "#5e9f6e"}, "value": "#d3473b"},
   "stroke": {"condition": {"test": "datum.c >= datum.o", "value": "#2f5e3b"}, "value": "#6b1d14"}}},
 {"data": {"values": [{}]}, "mark": {"type": "text", "fontSize": 8.5, "color": "#333333", "align": "left", "baseline": "middle"},
  "encoding": {"x": {"datum": -8.46, "type": "quantitative"}, "y": {"datum": 15.082, "type": "quantitative"}, "text": {"value": "SCDFEE ELECTRICA SA, 1D, BVB"}}},
 {"data": {"values": [{}]}, "mark": {"type": "text", "fontSize": 8.5, "color": "#777777", "align": "left", "baseline": "middle"},
  "encoding": {"x": {"datum": -8.46, "type": "quantitative"}, "y": {"datum": 15.003, "type": "quantitative"}, "text": {"value": "Volume (false)"}}},
 {"data": {"values": [{}]}, "mark": {"type": "text", "fontSize": 8.5, "color": "#777777", "align": "left", "baseline": "middle"},
  "encoding": {"x": {"datum": -8.46, "type": "quantitative"}, "y": {"datum": 14.924, "type": "quantitative"}, "text": {"value": "MA (100)"}}},
 {"data": {"name": "yt"}, "mark": {"type": "text", "fontSize": 7.5, "color": "#4d4d4d", "align": "left", "baseline": "middle"},
  "encoding": {"x": {"datum": 224.4, "type": "quantitative"}, "y": {"field": "p", "type": "quantitative", "title": null}, "text": {"field": "p", "type": "quantitative", "format": ".2f"}}},
 {"data": {"name": "last"}, "mark": {"type": "bar", "height": 8, "color": "#e0564a", "clip": false},
  "encoding": {"x": {"datum": 223.4, "type": "quantitative"}, "x2": {"datum": 229.9}, "y": {"field": "p", "type": "quantitative", "title": null}}},
 {"data": {"name": "levels"}, "mark": {"type": "bar", "height": 9, "color": "#1a1aff", "clip": false},
  "encoding": {"x": {"datum": 223.4, "type": "quantitative"}, "x2": {"datum": 229.9}, "y": {"field": "p", "type": "quantitative", "title": null}}},
 {"data": {"name": "last"}, "mark": {"type": "text", "fontSize": 7, "color": "white", "align": "center", "baseline": "middle"},
  "encoding": {"x": {"datum": 226.65, "type": "quantitative"}, "y": {"field": "p", "type": "quantitative", "title": null}, "text": {"field": "p", "type": "quantitative", "format": ".2f"}}},
 {"data": {"name": "levels"}, "mark": {"type": "text", "fontSize": 7, "color": "white", "align": "center", "baseline": "middle"},
  "encoding": {"x": {"datum": 226.65, "type": "quantitative"}, "y": {"field": "p", "type": "quantitative", "title": null}, "text": {"field": "p", "type": "quantitative", "format": ".2f"}}}
]}
],
"resolve": {"scale": {"y": "independent"}}
},
{
"width": 988, "height": 88,
"layer": [
 {"data": {"name": "hist"}, "mark": {"type": "bar", "width": 1.6, "color": "#ff6e6e", "opacity": 0.85},
  "encoding": {
   "x": {"field": "i", "type": "quantitative", "title": null, "scale": {"domain": [-9.64, 223.16], "nice": false, "zero": false},
    "axis": {"values": [0,10,22,32,43,53,64,74,84,94,104,114,124,134,147,166,176,188,198,210,220], "labelExpr": "['Sep','15','Oct','17','Nov','15','Dec','16','2017','17','Feb','15','Mar','15','Apr','May','16','Jun','15','Jul','17'][indexof([0,10,22,32,43,53,64,74,84,94,104,114,124,134,147,166,176,188,198,210,220], datum.value)]", "labelOverlap": false, "labelFlush": false, "grid": true, "ticks": true, "tickSize": 3, "labelPadding": 1, "title": null, "labelFontWeight": {"condition": {"test": "datum.value === 84", "value": "bold"}, "value": "normal"}}},
   "y": {"field": "h", "type": "quantitative", "title": null, "scale": {"domain": [-0.1165, 0.2154], "nice": false, "zero": false}, "axis": {"orient": "right", "values": [-0.1, 0, 0.1, 0.2], "labels": false, "grid": true, "ticks": true, "title": null}},
   "y2": {"datum": 0}}},
 {"data": {"name": "ml"}, "mark": {"type": "line", "color": "#5a5af0", "strokeWidth": 1.2},
  "encoding": {"x": {"field": "i", "type": "quantitative", "title": null}, "y": {"field": "m", "type": "quantitative", "title": null}}},
 {"data": {"name": "sl"}, "mark": {"type": "line", "color": "#f55a5a", "strokeWidth": 1.2},
  "encoding": {"x": {"field": "i", "type": "quantitative", "title": null}, "y": {"field": "s", "type": "quantitative", "title": null}}},
 {"data": {"name": "arrow"}, "mark": {"type": "line", "color": "#ff2a2a", "strokeWidth": 1.5},
  "encoding": {"x": {"field": "i", "type": "quantitative", "title": null}, "y": {"field": "m", "type": "quantitative", "title": null}}},
 {"data": {"name": "arrow"}, "transform": [{"filter": "datum.i > 150"}],
  "mark": {"type": "point", "shape": "M-2,-1.2L0,0L-2,1.2", "filled": false, "stroke": "#ff2a2a", "strokeWidth": 1.5, "size": 30, "angle": 3, "opacity": 1},
  "encoding": {"x": {"field": "i", "type": "quantitative", "title": null}, "y": {"field": "m", "type": "quantitative", "title": null}}},
 {"data": {"name": "mt"}, "mark": {"type": "text", "fontSize": 7.5, "color": "#4d4d4d", "align": "left", "baseline": "middle"},
  "encoding": {"x": {"datum": 224.4, "type": "quantitative"}, "y": {"field": "m", "type": "quantitative", "title": null}, "text": {"field": "t", "type": "nominal"}}},
 {"data": {"values": [{}]}, "mark": {"type": "text", "fontSize": 8.5, "color": "#777777", "align": "left", "baseline": "middle"},
  "encoding": {"x": {"datum": -8.46, "type": "quantitative"}, "y": {"datum": 0.178, "type": "quantitative"}, "text": {"value": "MACD (12, 26, 9)"}}},
 {"data": {"values": [{}]}, "mark": {"type": "text", "fontSize": 8, "color": "#222222", "align": "left", "baseline": "middle"},
  "encoding": {"x": {"datum": -9.2, "type": "quantitative"}, "y": {"datum": -0.198, "type": "quantitative"}, "text": {"value": "Created with"}}},
 {"data": {"values": [{}]}, "mark": {"type": "text", "fontSize": 8, "color": "#2e8bd9", "align": "left", "baseline": "middle"},
  "encoding": {"x": {"datum": 5.4, "type": "quantitative"}, "y": {"datum": -0.198, "type": "quantitative"}, "text": {"value": "TradingView"}}}
]
}
],
"spacing": 1,
"config": {
 "font": "Liberation Sans",
 "view": {"stroke": "#bdbdbd"},
 "axis": {"labelFontSize": 7.5, "labelColor": "#4d4d4d", "tickColor": "#a0a0a0", "domainColor": "#a0a0a0", "gridColor": "#e6e6e6", "tickSize": 2, "labelPadding": 1, "labelFont": "Liberation Sans"}
}
}
